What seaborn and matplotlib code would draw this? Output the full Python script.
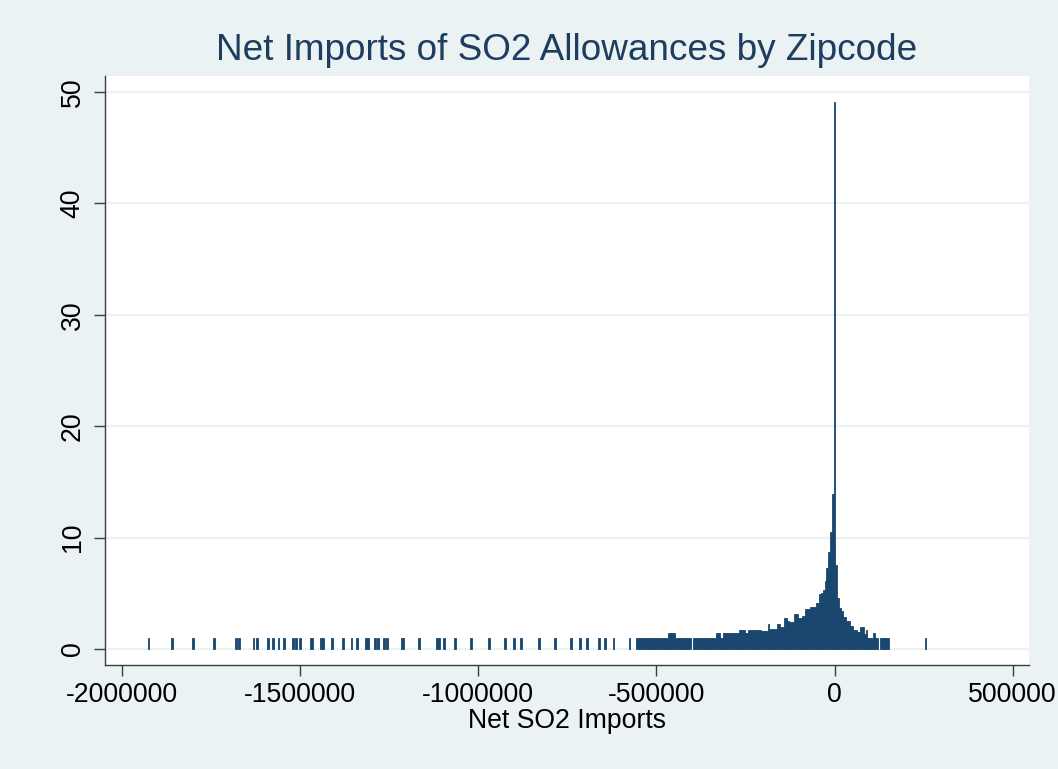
import numpy as np
import pandas as pd
import matplotlib
matplotlib.use("Agg")
import matplotlib.pyplot as plt
import seaborn as sns

# Histogram of net SO2 allowance imports by zipcode (bin width 5000, bins centred on multiples of 5000)
BIN_WIDTH = 5000

# Isolated bins in the far left tail (one bar each)
left_tail_centers = [
    -1925000, -1860000, -1800000, -1740000, -1680000, -1670000, -1630000, -1620000,
    -1590000, -1575000, -1560000, -1545000, -1520000, -1510000, -1500000, -1470000,
    -1465000, -1440000, -1435000, -1410000, -1380000, -1355000, -1340000, -1315000,
    -1310000, -1290000, -1280000, -1265000, -1255000, -1215000, -1210000, -1165000,
    -1115000, -1110000, -1095000, -1065000, -1020000, -970000, -925000, -900000,
    -880000, -830000, -785000, -740000, -715000, -695000, -660000, -645000,
    -620000, -575000,
]
left_tail_heights = [
    1.0, 1.0, 1.0, 1.0, 1.0, 1.0, 1.0, 1.0, 1.0, 1.0, 1.0, 1.0, 1.0, 1.0, 1.0, 1.0,
    1.0, 1.0, 1.0, 1.0, 1.0, 1.0, 1.0, 1.0, 1.0, 1.0, 1.0, 1.0, 1.0, 1.0, 1.0, 1.0,
    1.0, 1.0, 1.0, 1.0, 1.0, 1.0, 1.0, 1.0, 1.0, 1.0, 1.0, 1.0, 1.0, 1.0, 1.0, 1.0,
    1.0, 1.0,
]

# Contiguous bins from -555000 to 150000
dense_start = -555000
dense_heights = [
    1.0, 1.0, 1.0, 1.0, 1.0, 1.0, 1.0, 1.0, 1.0, 1.0, 1.0, 1.0, 1.0, 1.0, 1.0, 1.0, 1.0, 1.0,
    1.4, 1.4, 1.4, 1.4,
    1.0, 1.0, 1.0, 1.0, 1.0, 1.0, 1.0, 1.0, 1.0,
    0.0,
    1.0, 1.0, 1.0, 1.0, 1.0, 1.0, 1.0, 1.0, 1.0, 1.0, 1.0, 1.0, 1.0,
    1.45, 1.45,
    1.0, 1.0,
    1.45, 1.45, 1.45, 1.45, 1.45, 1.45, 1.45, 1.45, 1.45,
    1.75, 1.75, 1.75,
    1.45, 1.45,
    1.75, 1.75,
    1.7, 1.7, 1.7, 1.7, 1.7,
    1.65, 1.65, 1.65, 1.65,
    2.25,
    1.8, 1.8, 1.8, 1.8,
    2.25, 2.25,
    2.0, 2.0,
    2.75, 2.75,
    2.55,
    2.45, 2.45, 2.45,
    3.15, 3.15,
    2.75, 2.75,
    3.0, 3.0,
    3.6, 3.6, 3.6,
    3.75, 3.75, 3.75,
    4.1, 4.1,
    4.9, 5.0, 5.3, 6.1, 7.3, 8.7, 10.5, 13.9,
    49.1,
    7.5, 4.6, 3.7, 3.4, 2.9, 2.9, 2.5, 2.5, 2.1, 2.1,
    1.7, 1.7, 1.5, 1.5, 2.0, 2.0, 1.35, 1.7, 1.0, 1.0,
    1.0, 1.45, 1.0, 1.0, 0.0, 1.0, 1.0, 1.0, 1.0, 1.0,
]

# Isolated bin in the right tail
right_tail_centers = [255000]
right_tail_heights = [1.0]

x_ticks = [-2000000, -1500000, -1000000, -500000, 0, 500000]
y_ticks = [0, 10, 20, 30, 40, 50]

title_text = "Net Imports of SO2 Allowances by Zipcode"
x_title = "Net SO2 Imports"

# Assemble bin table
dense_centers = [dense_start + BIN_WIDTH * i for i in range(len(dense_heights))]
df = pd.DataFrame({
    "net_imports": left_tail_centers + dense_centers + right_tail_centers,
    "height": left_tail_heights + dense_heights + right_tail_heights,
})

BG = "#EAF2F3"
BAR = "#1A476F"
AXIS = "#3C3C3C"

plt.rcParams["font.family"] = ["Liberation Sans", "DejaVu Sans"]

fig = plt.figure(figsize=(10.58, 7.69), dpi=100, facecolor=BG)
ax = fig.add_axes([105 / 1058, 1 - 665 / 769, (1029 - 105) / 1058, (665 - 76) / 769])
ax.set_facecolor("white")

sns.histplot(data=df, x="net_imports", weights="height",
             binwidth=BIN_WIDTH, binrange=(-1927500, 257500), ax=ax,
             color=BAR, alpha=1.0, linewidth=0, element="bars")

# Outline the non-empty bars in the fill colour, as in a Stata-style histogram
for patch in ax.patches:
    if patch.get_height() > 0:
        patch.set_edgecolor(BAR)
        patch.set_linewidth(0.6)

ax.set_xlim(-2046900, 545700)
ax.set_ylim(-1.436, 51.43)

ax.set_xticks(x_ticks)
ax.set_xticklabels([str(v) for v in x_ticks], fontsize=19.2)
ax.set_yticks(y_ticks)
ax.set_yticklabels([str(v) for v in y_ticks], fontsize=19.2, rotation=90, va="center")

ax.tick_params(axis="both", direction="out", length=8, width=1.0, color=AXIS, labelcolor="black")
ax.tick_params(axis="x", pad=4)
ax.tick_params(axis="y", pad=6)

ax.yaxis.grid(True, color=BG, linewidth=1.6)
ax.xaxis.grid(False)
ax.set_axisbelow(True)

for side in ("top", "right"):
    ax.spines[side].set_visible(False)
for side in ("left", "bottom"):
    ax.spines[side].set_color(AXIS)
    ax.spines[side].set_linewidth(1.0)

ax.set_ylabel("")
ax.set_xlabel(x_title, fontsize=19.2, color="black", labelpad=0)

fig.text((105 + 1029) / 2 / 1058, 1 - 51 / 769, title_text, ha="center", va="center",
         fontsize=26.6, color="#1E3D5F")

fig.savefig("out.png", dpi=100, facecolor=BG)
